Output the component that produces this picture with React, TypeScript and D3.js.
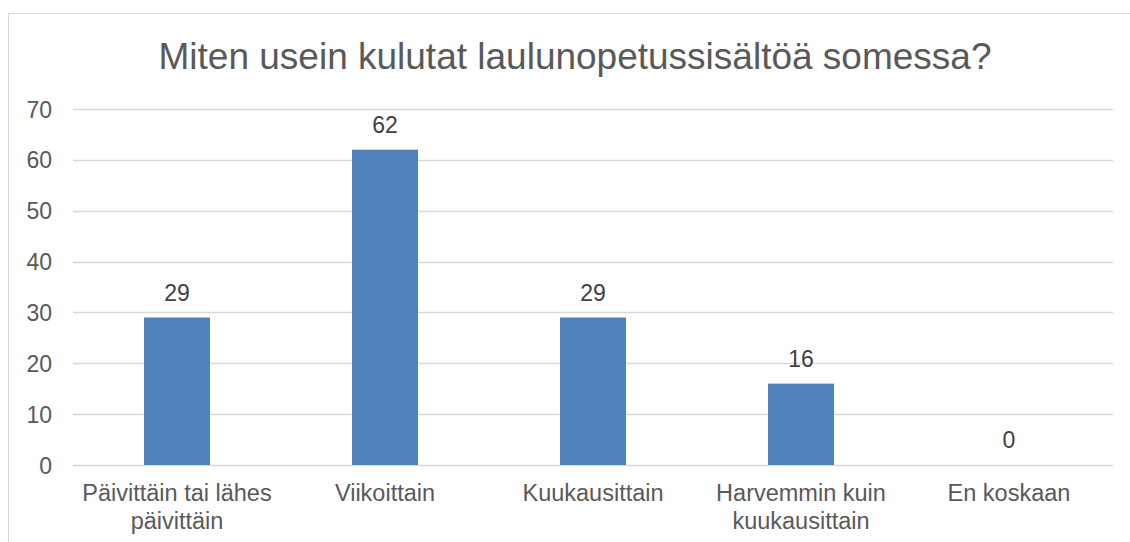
import React, { useEffect, useRef } from "react";
import * as d3 from "d3";

const categories = [
  "Päivittäin tai lähes päivittäin",
  "Viikoittain",
  "Kuukausittain",
  "Harvemmin kuin kuukausittain",
  "En koskaan",
];
// how the axis labels wrap in the picture
const categoryLines = [
  ["Päivittäin tai lähes", "päivittäin"],
  ["Viikoittain"],
  ["Kuukausittain"],
  ["Harvemmin kuin", "kuukausittain"],
  ["En koskaan"],
];
const values = [29, 62, 29, 16, 0];
const yTicks = [0, 10, 20, 30, 40, 50, 60, 70];
const title = "Miten usein kulutat laulunopetussisältöä somessa?";

const App = () => {
  const svgRef = useRef<SVGSVGElement>(null);

  useEffect(() => {
    const w = 1130;
    const h = 542;
    const font = "'Liberation Sans', Arial, sans-serif";
    const left = 73;
    const right = 1113;
    const top = 109;
    const bottom = 465;

    const svg = d3.select(svgRef.current).attr("width", w).attr("height", h);
    svg.selectAll("*").remove();

    svg.append("rect").attr("width", w).attr("height", h).attr("fill", "#fff");

    // chart area border
    svg.append("rect")
      .attr("x", 8.5)
      .attr("y", 13.5)
      .attr("width", w + 20)
      .attr("height", h + 20)
      .attr("fill", "none")
      .attr("stroke", "#d9d9d9")
      .attr("stroke-width", 1);

    const x = d3.scaleBand<string>()
      .domain(categories)
      .range([left, right])
      .paddingInner(0.683)
      .paddingOuter(0.683 / 2);

    const y = d3.scaleLinear().domain([0, 70]).range([bottom, top]);

    svg.append("text")
      .attr("x", 575)
      .attr("y", 69)
      .attr("text-anchor", "middle")
      .attr("font-family", font)
      .attr("font-size", 37)
      .attr("fill", "#595959")
      .text(title);

    // gridlines
    svg.append("g")
      .selectAll("line")
      .data(yTicks)
      .join("line")
      .attr("x1", left)
      .attr("x2", right)
      .attr("y1", d => Math.round(y(d)) + 0.5)
      .attr("y2", d => Math.round(y(d)) + 0.5)
      .attr("stroke", "#d9d9d9")
      .attr("stroke-width", 1.3);

    svg.append("g")
      .selectAll("text")
      .data(yTicks)
      .join("text")
      .attr("x", 52)
      .attr("y", d => y(d) + 8.5)
      .attr("text-anchor", "end")
      .attr("font-family", font)
      .attr("font-size", 23)
      .attr("fill", "#595959")
      .text(d => d);

    // bars
    svg.append("g")
      .selectAll("rect")
      .data(values)
      .join("rect")
      .attr("x", (d, i) => x(categories[i])!)
      .attr("width", x.bandwidth())
      .attr("y", d => y(d))
      .attr("height", d => y(0) - y(d))
      .attr("fill", "#4f81bd");

    // data labels
    svg.append("g")
      .selectAll("text")
      .data(values)
      .join("text")
      .attr("x", (d, i) => x(categories[i])! + x.bandwidth() / 2)
      .attr("y", d => y(d) - 17)
      .attr("text-anchor", "middle")
      .attr("font-family", font)
      .attr("font-size", 23)
      .attr("fill", "#404040")
      .text(d => d);

    // category labels
    const cat = svg.append("g")
      .selectAll("text")
      .data(categories)
      .join("text")
      .attr("text-anchor", "middle")
      .attr("font-family", font)
      .attr("font-size", 23.5)
      .attr("fill", "#595959");

    cat.each(function (d, i) {
      const cx = x(d)! + x.bandwidth() / 2;
      d3.select(this)
        .selectAll("tspan")
        .data(categoryLines[i])
        .join("tspan")
        .attr("x", cx)
        .attr("y", (l, j) => 501 + j * 28)
        .text(l => l);
    });
  }, []);

  return (
    <svg
      ref={svgRef}
      style={{ position: "absolute", left: 0, top: 0, display: "block" }}
    />
  );
};

export default App;
